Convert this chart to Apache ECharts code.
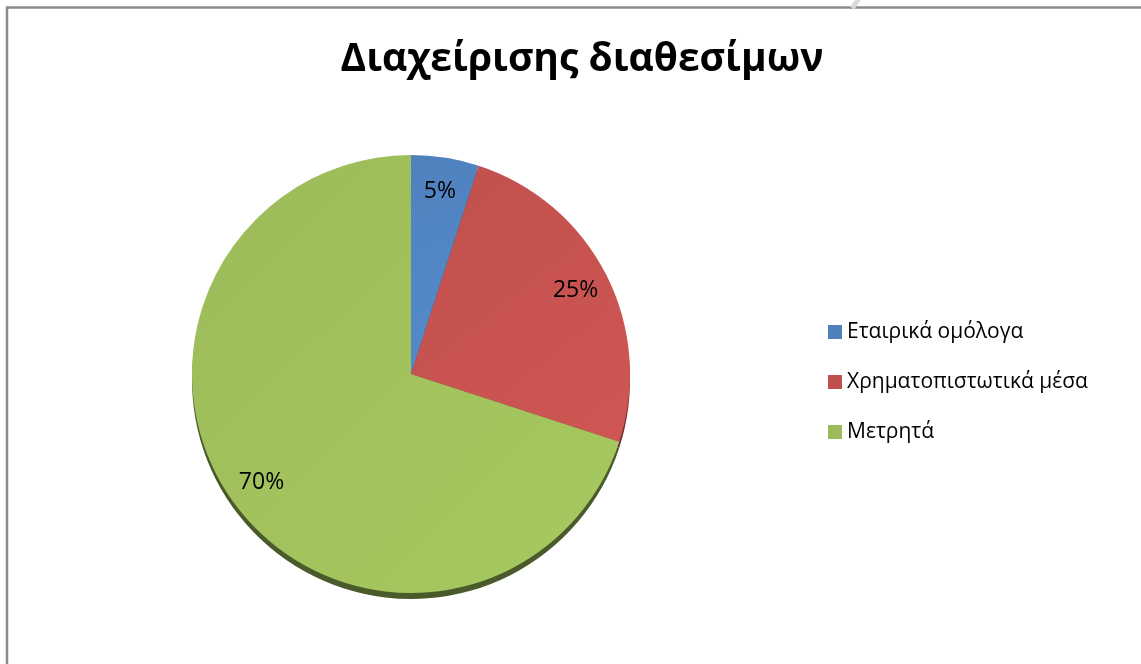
<!DOCTYPE html>
<html>
<head>
<meta charset="utf-8">
<script src="https://cdn.jsdelivr.net/npm/echarts@6/dist/echarts.min.js"></script>
<style>
html,body{margin:0;padding:0;background:#fff;}
#chart{width:1141px;height:664px;}
</style>
</head>
<body>
<div id="chart"></div>
<script>
const titleText = 'Διαχείρισης διαθεσίμων';
const categories = ['Εταιρικά ομόλογα', 'Χρηματοπιστωτικά μέσα', 'Μετρητά'];
const values = [5, 25, 70];
const colors = ['#4F81BD', '#C0504D', '#9BBB59'];
const edgeColors = ['#2f4d72', '#73302e', '#4a5a2a'];

const FONT = '"Open Sans", "Noto Sans", sans-serif';
const CX = 411, CY = 374, R = 219;

function grad(c) {
  return new echarts.graphic.LinearGradient(0, 0, 1, 1, [
    { offset: 0, color: echarts.color.lift(c, 0.0) },
    { offset: 1, color: echarts.color.lift(c, -0.08) }
  ]);
}

const chart = echarts.init(document.getElementById('chart'), null, { renderer: 'canvas' });
chart.setOption({
  backgroundColor: '#fff',
  animation: false,
  title: {
    text: titleText,
    left: 577, top: 35, textAlign: 'center',
    textStyle: { fontFamily: FONT, fontWeight: 'bold', fontSize: 39, color: '#000' }
  },
  legend: {
    orient: 'vertical',
    left: 828, top: 318, padding: 0,
    itemWidth: 14, itemHeight: 14, itemGap: 22,
    icon: 'rect',
    data: categories.map((n, i) => ({ name: n, itemStyle: { color: colors[i] } })),
    textStyle: { fontFamily: FONT, fontSize: 21, color: '#000', lineHeight: 28 },
    selectedMode: false
  },
  graphic: [
    { type: 'rect', shape: { x: 7, y: 7.5, width: 1200, height: 700 },
      style: { fill: 'none', stroke: '#8a8a8a', lineWidth: 2.5 }, z: -10 },
    { type: 'line', shape: { x1: 859, y1: -1, x2: 852, y2: 8 },
      style: { stroke: '#dcdcdc', lineWidth: 5 }, z: -9 }
  ],
  series: [
    {
      type: 'pie', name: 'main',
      center: [CX, CY], radius: R, startAngle: 90, clockwise: true,
      label: { show: false }, labelLine: { show: false },
      itemStyle: { borderWidth: 0 },
      data: categories.map((n, i) => ({ name: n, value: values[i], itemStyle: { color: grad(colors[i]) } })),
      z: 2
    },
    {
      type: 'pie', name: 'edge', silent: true, legendHoverLink: false,
      center: [CX, CY + 6], radius: R, startAngle: 90, clockwise: true,
      label: { show: false }, labelLine: { show: false },
      data: categories.map((n, i) => ({ name: n, value: values[i], itemStyle: { color: edgeColors[i] } })),
      z: 1
    },
    {
      type: 'pie', name: 'labels', silent: true, legendHoverLink: false,
      center: [CX, CY], radius: [0, 2 * 0.83 * R], startAngle: 90, clockwise: true,
      itemStyle: { color: 'rgba(0,0,0,0)' },
      label: { show: true, position: 'inside', formatter: '{d}%', fontFamily: FONT, fontSize: 23, color: '#000' },
      labelLine: { show: false },
      data: categories.map((n, i) => ({ name: n, value: values[i] })),
      z: 3
    }
  ]
});
</script>
</body>
</html>
